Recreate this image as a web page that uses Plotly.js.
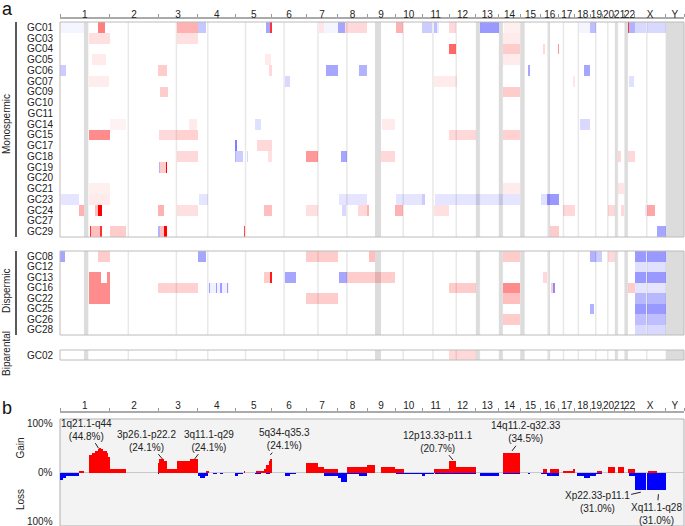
<!DOCTYPE html>
<html><head><meta charset="utf-8">
<script src="https://cdn.plot.ly/plotly-3.0.1.min.js"></script>
<style>html,body{margin:0;padding:0;background:#fff}#chart{width:685px;height:526px}</style>
</head><body><div id="chart"></div>
<script>
// ---------- genome layout (Mb) ----------
const chromNames = ['1','2','3','4','5','6','7','8','9','10','11','12','13','14','15','16','17','18','19','20','21','22','X','Y'];
const chromLengths = [249.25,243.2,198.0,191.15,180.9,171.1,159.1,146.4,141.2,135.5,135.0,133.85,115.2,107.35,102.5,90.35,81.2,78.1,59.1,63.0,48.1,51.3,155.3,92];
const centromeres = [123.4,93.3,91.0,50.4,48.4,61.0,59.9,45.6,49.0,40.2,53.7,35.8,17.9,17.6,19.0,36.6,24.0,17.2,26.5,27.5,13.2,14.7,60.6,12.5];
const heterochromatin = [['1',121,142],['9',40,70],['13',0,19],['14',0,19],['15',0,20],['16',38,47],['21',0,13],['22',0,16],['Y',0,92]];

// ---------- samples ----------
const monoSamples = ['GC01','GC03','GC04','GC05','GC06','GC07','GC09','GC10','GC11','GC14','GC15','GC17','GC18','GC19','GC20','GC21','GC23','GC24','GC27','GC29'];
const diSamples = ['GC08','GC12','GC13','GC16','GC22','GC25','GC26','GC28'];
const biSamples = ['GC02'];

// segments: [sample, chrom, startMb, endMb, level(+gain red / -loss blue)]
const monoSegments = [
 ['GC01','1',0,118,-0.04],['GC01','1',190,228,0.5],['GC01','3',94,198,0.3],['GC01','4',0,43,-0.22],
 ['GC01','5',152,169,-0.35],['GC01','5',169,181,0.8],['GC01','7',67,91,0.1],['GC01','7',91,159,-0.04],
 ['GC01','8',0,34,-0.35],['GC01','8',34,37,0.8],['GC01','8',37,146,0.15],['GC01','10',3,38,0.3],
 ['GC01','11',1,49,-0.2],['GC01','11',57,74,-0.25],['GC01','11',74,85,-0.08],['GC01','12',0,35,0.15],
 ['GC01','13',21,115,-0.4],['GC01','14',24,107,0.06],['GC01','18',18,78,-0.04],['GC01','19',0,27,-0.25],
 ['GC01','22',17,24,0.8],['GC01','22',24,51,-0.3],['GC01','X',0,58,-0.15],['GC01','X',62,155,-0.15],
 ['GC03','1',143,249,0.12],['GC03','3',94,198,0.12],['GC03','14',20,107,0.08],
 ['GC04','12',1,35,0.6],['GC04','14',20,107,0.2],['GC04','16',14,21,0.15],['GC04','16',87,90,0.4],
 ['GC05','1',161,232,0.08],['GC05','5',147,176,0.08],['GC05','14',20,107,0.08],
 ['GC06','1',0,31,-0.2],['GC06','3',1,43,0.2],['GC06','5',164,181,0.15],['GC06','7',100,159,-0.35],
 ['GC06','8',104,146,-0.3],['GC06','15',40,50,-0.35],['GC06','18',48,78,-0.35],
 ['GC07','1',143,246,0.07],['GC07','6',67,92,-0.15],['GC07','11',60,135,0.08],['GC07','12',0,38,0.08],
 ['GC07','17',74,81,0.1],['GC07','22',25,48,-0.12],
 ['GC09','3',10,48,0.2],['GC09','14',20,107,0.2],
 ['GC14','2',0,83,0.05],['GC14','3',155,193,0.08],['GC14','5',97,126,-0.12],['GC14','9',74,141,0.08],['GC14','18',27,78,-0.15],
 ['GC15','1',143,249,0.45],['GC15','3',5,94,0.15],['GC15','3',94,198,0.18],['GC15','12',0,134,0.15],['GC15','14',20,107,0.18],
 ['GC17','4',187,191,-0.5],['GC17','5',0,8,-0.5],['GC17','5',105,181,0.15],
 ['GC18','3',94,198,0.15],['GC18','4',189,191,-0.3],['GC18','5',0,34,-0.2],['GC18','5',56,61,-0.15],
 ['GC18','5',163,181,0.12],['GC18','7',0,59,0.4],['GC18','8',17,46,-0.35],['GC18','9',71,141,0.15],
 ['GC18','21',15,30,0.15],['GC18','22',17,51,0.15],
 ['GC19','3',2,10,-0.3],['GC19','3',10,38,0.2],['GC19','3',38,43,1],
 ['GC21','1',143,249,0.06],['GC21','14',20,107,0.08],['GC21','21',15,45,0.1],
 ['GC23','1',5,93,-0.1],['GC23','1',143,249,0.08],['GC23','4',7,49,-0.1],['GC23','8',4,146,-0.1],
 ['GC23','10',3,135,-0.1],['GC23','11',0,15,-0.2],['GC23','11',65,135,-0.1],['GC23','12',0,134,-0.1],
 ['GC23','13',0,115,-0.1],['GC23','14',0,107,-0.1],['GC23','16',0,31,-0.12],['GC23','16',31,90,-0.4],
 ['GC24','1',93,122,0.3],['GC24','1',177,188,0.25],['GC24','1',188,213,1],['GC24','3',1,27,0.3],
 ['GC24','3',94,198,0.12],['GC24','5',139,181,0.25],['GC24','7',0,59,0.12],['GC24','8',20,42,-0.15],
 ['GC24','8',99,146,0.15],['GC24','9',0,12,0.3],['GC24','10',0,38,0.3],['GC24','11',57,135,0.12],
 ['GC24','17',24,81,0.15],['GC24','20',28,63,0.15],['GC24','21',32,48,0.15],['GC24','X',52,58,-0.1],['GC24','X',62,103,0.35],
 ['GC29','1',148,155,0.8],['GC29','1',155,202,0.25],['GC29','1',202,210,0.8],['GC29','2',0,81,0.2],
 ['GC29','3',0,7,-0.3],['GC29','3',7,27,0.25],['GC29','3',27,43,1],['GC29','5',39,46,0.7],
 ['GC29','16',48,90,0.2],['GC29','X',114,155,-0.35]
];
const diSegments = [
 ['GC08','1',0,23,-0.35],['GC08','1',190,249,0.2],['GC08','4',0,41,-0.35],['GC08','7',0,159,0.2],
 ['GC08','9',8,41,0.25],['GC08','14',20,107,0.2],['GC08','19',0,27,-0.3],['GC08','19',27,59,-0.2],
 ['GC08','20',31,63,0.15],['GC08','X',0,58,-0.4],['GC08','X',62,155,-0.4],
 ['GC12','X',0,58,-0.12],['GC12','X',62,155,-0.12],
 ['GC13','1',143,205,0.45],['GC13','1',234,249,0.45],['GC13','5',139,172,0.2],['GC13','5',172,181,0.9],
 ['GC13','6',67,121,-0.35],['GC13','8',4,46,-0.35],['GC13','8',46,146,0.2],['GC13','9',0,141,0.2],
 ['GC13','10',3,6,-0.2],['GC13','16',14,31,0.15],['GC13','X',0,58,-0.4],['GC13','X',62,155,-0.4],
 ['GC16','1',143,249,0.45],['GC16','3',0,198,0.18],['GC16','4',55,155,-0.05],['GC16','4',58,63,-0.35],
 ['GC16','4',93,98,-0.35],['GC16','4',113,116,-0.35],['GC16','4',119,123,-0.35],['GC16','4',148,152,-0.35],
 ['GC16','12',0,134,0.2],['GC16','14',20,107,0.45],['GC16','16',52,64,0.2],['GC16','16',64,72,-0.45],
 ['GC16','22',17,51,0.2],['GC16','X',0,58,-0.1],['GC16','X',62,155,-0.1],
 ['GC22','1',143,249,0.45],['GC22','7',0,159,0.2],['GC22','14',20,107,0.25],['GC22','X',0,58,-0.28],['GC22','X',62,155,-0.28],
 ['GC25','19',0,18,-0.3],['GC25','X',0,58,-0.4],['GC25','X',62,155,-0.4],
 ['GC26','14',20,107,0.2],['GC26','X',0,58,-0.25],['GC26','X',62,155,-0.25],
 ['GC28','X',0,58,-0.15],['GC28','X',62,155,-0.15]
];
const biSegments = [['GC02','12',0,134,0.15]];

// frequency (% of 29 samples): [chrom, startMb, endMb, pct]
const gainFreq = [
 ['1',93,121,3.4],['1',143,160,31.0],['1',160,177,34.5],['1',177,188,37.9],['1',188,197,41.4],['1',197,205,44.8],
 ['1',205,218,41.4],['1',218,235,37.9],['1',235,243,34.5],['1',243,249,27.6],['2',0,83,6.9],
 ['3',0,6,17.2],['3',6,27,24.1],['3',27,43,20.7],['3',43,94,6.9],['3',94,157,20.7],['3',157,198,24.1],
 ['4',43,54,3.4],['5',39,47,3.4],['5',102,139,3.4],['5',139,152,6.9],['5',152,164,13.8],['5',164,172,20.7],['5',172,181,24.1],
 ['7',0,59,17.2],['7',59,92,10.3],['7',92,159,6.9],['8',48,146,10.3],['9',0,41,13.8],['9',71,141,10.3],
 ['10',0,42,6.9],['11',60,135,6.9],['12',0,35,20.7],['12',35,134,10.3],['14',20,107,34.5],
 ['16',14,31,6.9],['16',48,90,6.9],['17',24,74,3.4],['17',74,81,6.9],['19',32,59,3.4],['20',28,63,10.3],
 ['21',15,48,10.3],['22',17,51,6.9],['X',66,111,3.4]
];
const lossFreq = [
 ['1',0,17,13.8],['1',17,31,10.3],['1',31,93,6.9],['3',0,6,3.4],
 ['4',0,9,6.9],['4',9,38,10.3],['4',38,49,6.9],['4',78,98,3.4],['4',113,128,3.4],['4',186,191,6.9],
 ['5',0,12,6.9],['5',12,34,3.4],['5',97,126,3.4],['5',152,169,3.4],['6',67,92,6.9],['6',92,122,3.4],
 ['7',92,159,6.9],['8',0,17,10.3],['8',17,46,17.2],['8',46,104,3.4],['8',104,146,6.9],
 ['10',3,135,3.4],['11',0,15,6.9],['11',15,57,3.4],['11',65,135,3.4],['12',0,134,3.4],
 ['13',19,115,6.9],['14',19,107,3.4],['15',40,50,3.4],['16',2,31,3.4],['16',31,90,6.9],
 ['18',12,48,6.9],['18',48,78,10.3],['19',0,27,6.9],['19',27,59,3.4],['22',24,51,6.9],
 ['X',0,58,31.0],['X',62,155,31.0]
];
// peak labels: [chrom, Mb, pct at arrow tip, text, text offset x px, text offset y px]
const peakLabels = [
 ['1',193,43.5,'1q21.1-q44<br>(44.8%)',-11.6,-18.6],
 ['3',21.6,24.0,'3p26.1-p22.2<br>(24.1%)',-15.6,-18.5],
 ['3',182,24.0,'3q11.1-q29<br>(24.1%)',14,-18.5],
 ['5',172.5,31.5,'5q34-q35.3<br>(24.1%)',14,-15.8],
 ['12',18.5,22.5,'12p13.33-p11.1<br>(20.7%)',-14.7,-18.3],
 ['14',65.7,38.6,'14q11.2-q32.33<br>(34.5%)',14.3,-18.7],
 ['X',31,-35.3,'Xp22.33-p11.1<br>(31.0%)',-43.7,10],
 ['X',119,-38.9,'Xq11.1-q28<br>(31.0%)',-1.5,19.6]
];

// ---------- build ----------
const offsets = {}; let acc = 0;
chromNames.forEach((c,i)=>{offsets[c]=acc; acc+=chromLengths[i];});
const XMAX = acc;
const gpos = (c,mb)=>offsets[c]+mb;
const centers = chromNames.map((c,i)=>offsets[c]+chromLengths[i]/2);
const bounds = chromNames.map(c=>offsets[c]).concat([XMAX]);
const FONT = 'Liberation Sans, Arial, sans-serif';

function heatTrace(samples, segs, yaxis){
  const idx={}; samples.forEach((s,i)=>idx[s]=i);
  return {type:'bar', orientation:'h', xaxis:'x', yaxis:yaxis,
    y:segs.map(s=>idx[s[0]]), base:segs.map(s=>gpos(s[1],s[2])), x:segs.map(s=>s[3]-s[2]), width:1,
    marker:{color:segs.map(s=>s[4]>0?`rgba(255,0,0,${s[4]})`:`rgba(0,0,255,${-s[4]})`), line:{width:0}},
    hoverinfo:'skip', showlegend:false};
}
function freqTrace(segs, sign, color){
  return {type:'bar', xaxis:'x2', yaxis:'y4',
    x:segs.map(s=>gpos(s[0],(s[1]+s[2])/2)), width:segs.map(s=>s[2]-s[1]), y:segs.map(s=>sign*s[3]),
    marker:{color:color, line:{width:0}}, hoverinfo:'skip', showlegend:false};
}
const data = [
  heatTrace(monoSamples, monoSegments, 'y'),
  heatTrace(diSamples, diSegments, 'y2'),
  heatTrace(biSamples, biSegments, 'y3'),
  freqTrace(gainFreq, 1, '#ff0000'),
  freqTrace(lossFreq, -1, '#0000ff')
];

const H=526, L=60, PW=624;
const py = v=>1-v/H, pxp = v=>(v-L)/PW;

const shapes = [];
shapes.push({type:'rect', xref:'x2 domain', yref:'y4 domain', x0:0,x1:1,y0:0,y1:1, fillcolor:'#f3f3f3', line:{color:'#b0b0b0',width:1}, layer:'below'});
shapes.push({type:'line', xref:'x2 domain', yref:'y4', x0:0,x1:1,y0:0,y1:0, line:{color:'#c8c8c8',width:1}, layer:'below'});
['y','y2','y3'].forEach(yr=>{
  centromeres.forEach((m,i)=>{ const g=gpos(chromNames[i],m);
    shapes.push({type:'line', xref:'x', yref:yr+' domain', x0:g,x1:g,y0:0,y1:1, line:{color:'#e8e8e8',width:1.5}, layer:'below'}); });
  heterochromatin.forEach(h=>{
    shapes.push({type:'rect', xref:'x', yref:yr+' domain', x0:gpos(h[0],h[1]), x1:Math.min(XMAX,gpos(h[0],h[2])), y0:0,y1:1, fillcolor:'#dcdcdc', line:{width:0}, layer:'below'}); });
  shapes.push({type:'rect', xref:'x domain', yref:yr+' domain', x0:0,x1:1,y0:0,y1:1, line:{color:'#bcbcbc',width:1}, fillcolor:'rgba(0,0,0,0)'});
});
['y','y2'].forEach(yr=>shapes.push({type:'line', xref:'paper', yref:yr+' domain', x0:pxp(16),x1:pxp(16),y0:0,y1:1, line:{color:'#000',width:1.3}}));

const annotations = [];
const txt = (text,x,y,opts)=>Object.assign({text:text, xref:'paper', yref:'paper', x:x, y:y, showarrow:false,
  xanchor:'center', yanchor:'middle', font:{size:10,color:'#222',family:FONT}}, opts||{});
annotations.push(txt('a', pxp(0), py(-3), {xanchor:'left', yanchor:'top', font:{size:18,color:'#111',family:FONT}}));
annotations.push(txt('b', pxp(0), py(408), {xanchor:'left', font:{size:18,color:'#111',family:FONT}}));
annotations.push(txt('Monospermic', pxp(6), py(124), {textangle:-90}));
annotations.push(txt('Dispermic', pxp(6), py(291), {textangle:-90}));
annotations.push(txt('Biparental', pxp(6), py(354), {textangle:-90}));
annotations.push(txt('Gain', pxp(20), py(448.5), {textangle:-90}));
annotations.push(txt('Loss', pxp(20), py(500), {textangle:-90}));
annotations.push(txt('100%', pxp(55), py(423.3), {xanchor:'right'}));
annotations.push(txt('0%', pxp(55), py(472.7), {xanchor:'right'}));
annotations.push(txt('100%', pxp(55), py(521.7), {xanchor:'right'}));
peakLabels.forEach(p=>annotations.push({xref:'x2', yref:'y4', x:gpos(p[0],p[1]), y:p[2], text:p[3], showarrow:true,
  arrowhead:0, arrowwidth:1, arrowcolor:'#222', ax:p[4], ay:p[5], font:{size:10,color:'#222',family:FONT}, align:'center'}));

const xCommon = {range:[0,XMAX], showgrid:false, zeroline:false, showline:true, linecolor:'#aaaaaa', linewidth:2,
  side:'top', anchor:'free', tickmode:'array', tickvals:centers, ticktext:chromNames, ticks:'', tickangle:0,
  tickfont:{size:10,color:'#222',family:FONT}, fixedrange:true,
  minor:{tickmode:'array', tickvals:bounds, ticks:'outside', ticklen:3, tickwidth:1, tickcolor:'#999', showgrid:false}};
const yHeat = (samples, dom)=>({domain:dom, range:[samples.length-0.5,-0.5], anchor:'x', showgrid:false, zeroline:false,
  showline:false, tickmode:'array', tickvals:samples.map((s,i)=>i), ticktext:samples, ticks:'', ticklabelstandoff:6,
  tickfont:{size:10,color:'#222',family:FONT}, fixedrange:true});

const layout = {
  width:685, height:526, margin:{l:L,r:1,t:0,b:0}, paper_bgcolor:'#fff', plot_bgcolor:'#fff',
  font:{family:FONT,color:'#222'}, barmode:'overlay', showlegend:false, bargap:0,
  xaxis:Object.assign({}, xCommon, {position:py(17.5), ticklabelstandoff:-5}),
  xaxis2:Object.assign({}, xCommon, {position:py(412.3), ticklabelstandoff:-2}),
  yaxis:yHeat(monoSamples,[py(237),py(22)]),
  yaxis2:yHeat(diSamples,[py(335),py(251)]),
  yaxis3:yHeat(biSamples,[py(360),py(350)]),
  yaxis4:{domain:[0,py(419)], range:[-96,96], anchor:'x2', showgrid:false, zeroline:false, showticklabels:false, ticks:'', fixedrange:true},
  shapes:shapes, annotations:annotations
};
Plotly.newPlot('chart', data, layout, {staticPlot:true, displayModeBar:false});
</script></body></html>
